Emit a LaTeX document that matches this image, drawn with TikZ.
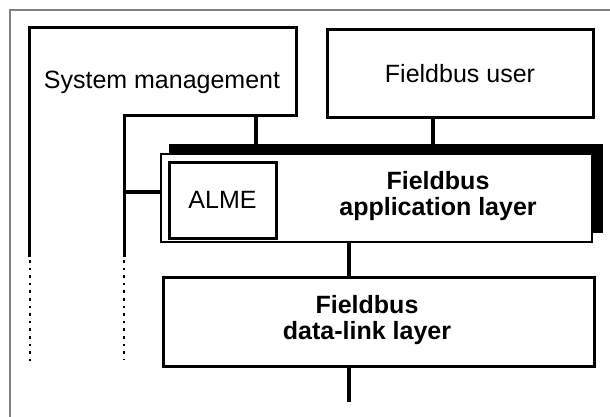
\documentclass[tikz,border=0pt]{standalone}
\usepackage{fontspec}
\setmainfont{Liberation Sans}
\begin{document}
\begin{tikzpicture}[x=0.5pt, y=-0.5pt,
  box/.style={draw, line width=1.5pt, fill=white, inner sep=0pt},
  txt/.style={font=\fontsize{12.5}{13}\selectfont, align=center, inner sep=0pt},
  boldtxt/.style={txt, font=\fontsize{12.5}{13}\selectfont\bfseries},
  link/.style={line width=2pt},
  cont/.style={line width=1.3pt, dash pattern=on 1.3pt off 2.5pt}]
  \useasboundingbox (0,0) rectangle (610,417);

  \draw[gray, line width=0.6pt] (10,417) -- (10,10) -- (610,10); %% frame

  %% system management
  \coordinate (smouter) at (29,257);
  \coordinate (sminner) at (124,257);
  \draw[line width=1.5pt] (smouter) -- (29,28) -- (296,28) -- (296,116)
    -- (124,116) -- (sminner);
  \node[txt] (smlabel) at (162,82) {System management};
  \coordinate (smouterend) at (30,366);
  \coordinate (sminnerend) at (124,360);
  \draw[cont] (smouter) ++(1,3) -- (smouterend);
  \draw[cont] (sminner) ++(0,3) -- (sminnerend);

  %% layers
  \node[box, txt, minimum width=133pt, minimum height=44pt] (user) at (460,74) {Fieldbus user};
  \node[fill=black, inner sep=0pt, minimum width=217pt, minimum height=44.5pt] (appshadow) at (386,188.5) {};
  \node[box, line width=1pt, minimum width=215.5pt, minimum height=44pt] (app) at (376.5,198) {};
  \node[box, txt, minimum width=53.5pt, minimum height=38pt] (alme) at (222.5,200) {ALME};
  \node[boldtxt] (applabel) at (438,196) {Fieldbus\\application layer};
  \node[box, minimum width=215.5pt, minimum height=44.5pt] (dll) at (378.5,321.5) {};
  \node[boldtxt] (dlllabel) at (367,320) {Fieldbus\\data-link layer};

  %% links
  \coordinate (smtap) at (256,116);
  \coordinate (usertap) at (433,0);
  \coordinate (smleft) at (124,192);
  \coordinate (stack) at (349,0);
  \coordinate (busend) at (349,402);
  \draw[link] (smtap) -- (smtap |- appshadow.north);
  \draw[link] (usertap |- user.south) -- (usertap |- appshadow.north);
  \draw[link] (smleft) -- (smleft -| app.west);
  \draw[link] (stack |- app.south) -- (stack |- dll.north);
  \draw[link] (busend |- dll.south) -- (busend);
\end{tikzpicture}
\end{document}
